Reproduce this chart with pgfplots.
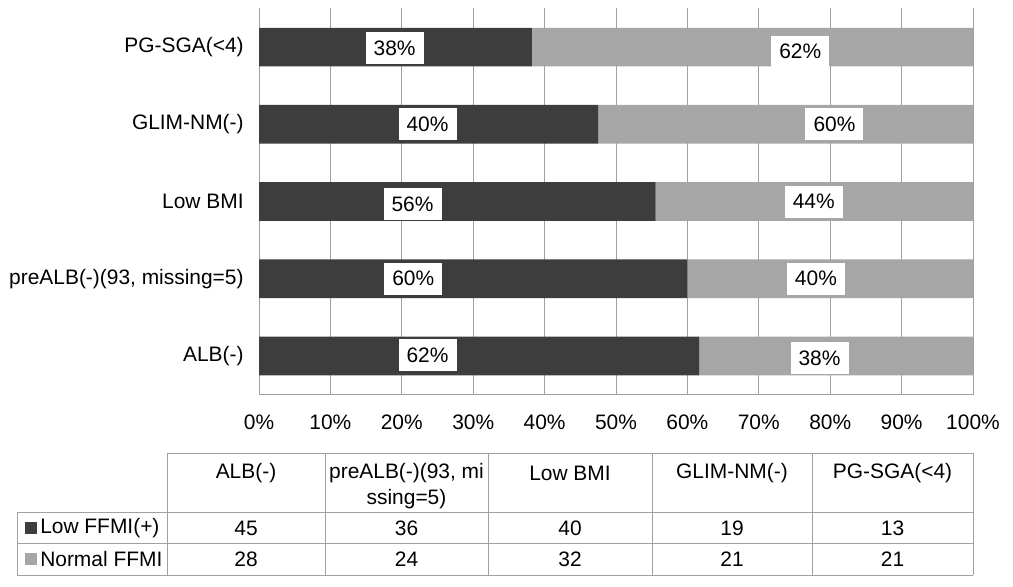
\documentclass[border=0pt]{standalone}
\usepackage{fontspec}
\setmainfont{Liberation Sans}
\usepackage{pgfplots}
\usepackage{pgfplotstable}
\pgfplotsset{compat=1.18}
\definecolor{darkbar}{HTML}{3D3D3D}
\definecolor{lightbar}{HTML}{A6A6A6}
\definecolor{gridgray}{HTML}{A0A0A0}
\newcommand\chartfont{\fontsize{15.7pt}{18pt}\selectfont}

\pgfplotstableread{
idx low normal
0 45 28
1 36 24
2 40 32
3 19 21
4 13 21
}\counts

\begin{document}
\begin{tikzpicture}
\path[use as bounding box] (0,0) rectangle (759.75pt,-439.5pt);
\begin{axis}[
  at={(194.25pt,-295.95pt)}, anchor=south west,
  scale only axis, width=535.5pt, height=289.65pt,
  xbar stacked, bar width=28.9pt,
  xmin=0, xmax=100, ymin=-0.5, ymax=4.5,
  ytick={0,1,2,3,4},
  yticklabels={ALB(-),{preALB(-)(93, missing=5)},Low BMI,GLIM-NM(-),PG-SGA(<4)},
  xtick={0,10,...,100},
  xticklabel={\pgfmathprintnumber{\tick}\%},
  /pgf/number format/assume math mode=true,
  xmajorgrids,
  major grid style={draw=gridgray, line width=0.75pt},
  axis x line*=bottom, axis y line*=left,
  axis line style={draw=gridgray, line width=0.75pt, -},
  major tick length=0pt,
  tick style={draw=none},
  ticklabel style={font=\chartfont, text=black},
  yticklabel style={xshift=-8pt},
  xticklabel style={yshift=-12pt},
]
\addplot[fill=darkbar, draw=none] table[y=idx, x expr={100*\thisrow{low}/(\thisrow{low}+\thisrow{normal})}]{\counts};
\addplot[fill=lightbar, draw=none] table[y=idx, x expr={100*\thisrow{normal}/(\thisrow{low}+\thisrow{normal})}]{\counts};
\end{axis}
\begin{axis}[
  at={(194.25pt,-295.95pt)}, anchor=south west,
  scale only axis, width=535.5pt, height=289.65pt,
  xmin=0, xmax=100, ymin=-0.5, ymax=4.5,
  hide axis, clip=false,
]
\addplot[only marks, mark=*, mark size=0pt, draw=none, fill=none,
  point meta=explicit symbolic,
  nodes near coords, nodes near coords align={center},
  every node near coord/.append style={fill=white, inner sep=0pt, minimum width=43.5pt, minimum height=24pt, font=\chartfont, text=black, anchor=center}]
coordinates {
  (19.0,3.99) [38\%]
  (75.8,3.94) [62\%]
  (23.6,3.0) [40\%]
  (80.6,3.0) [60\%]
  (21.5,1.97) [56\%]
  (77.7,2.0) [44\%]
  (21.6,1.0) [60\%]
  (78.0,1.0) [40\%]
  (23.6,0.01) [62\%]
  (78.5,-0.03) [38\%]
};
\end{axis}
\begin{scope}[x=0.75pt,y=-0.75pt]
  \draw[gridgray, line width=0.75pt] (167,453) -- (973,453);
  \draw[gridgray, line width=0.75pt] (17,512) -- (973,512);
  \draw[gridgray, line width=0.75pt] (17,543) -- (973,543);
  \draw[gridgray, line width=0.75pt] (17,575) -- (973,575);
  \draw[gridgray, line width=0.75pt] (17,512) -- (17,575);
  \foreach \cx in {167,325,488,652,812,973}
    \draw[gridgray, line width=0.75pt] (\cx,453) -- (\cx,575);
  \begin{scope}[every node/.style={font=\chartfont, inner sep=0pt, text=black}]
    \node at (246,473) {ALB(-)};
    \node at (406.5,473) {preALB(-)(93, mi};
    \node at (406.5,499) {ssing=5)};
    \node at (570,473) {Low BMI};
    \node at (732,473) {GLIM-NM(-)};
    \node at (892.5,473) {PG-SGA(<4)};
    \fill[darkbar] (25,522) rectangle (37,534);
    \node[anchor=west] at (40,528) {Low FFMI(+)};
    \fill[lightbar] (25,553) rectangle (37,565);
    \node[anchor=west] at (40,559) {Normal FFMI};
    \node at (246,528) {45};
    \node at (406.5,528) {36};
    \node at (570,528) {40};
    \node at (732,528) {19};
    \node at (892.5,528) {13};
    \node at (246,559) {28};
    \node at (406.5,559) {24};
    \node at (570,559) {32};
    \node at (732,559) {21};
    \node at (892.5,559) {21};
  \end{scope}
\end{scope}
\end{tikzpicture}
\end{document}
